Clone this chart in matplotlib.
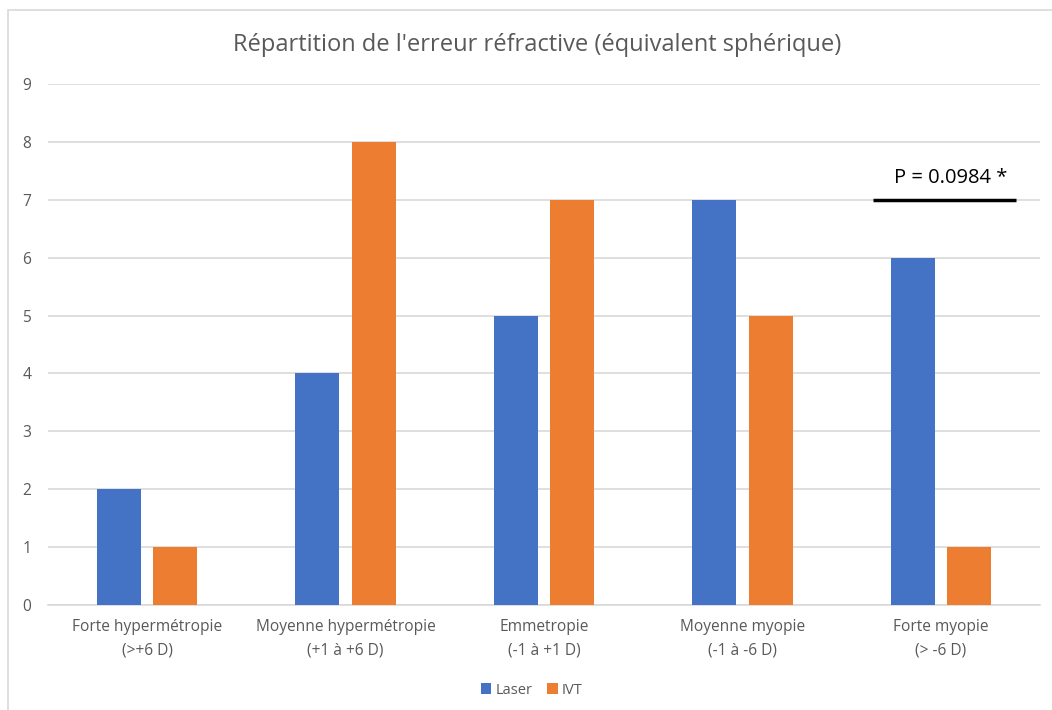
"""
Répartition de l'erreur réfractive - bar chart
"""
import numpy as np
import matplotlib.pyplot as plt
from matplotlib.patches import Rectangle

plt.rcParams['font.family'] = ['Open Sans', 'DejaVu Sans']

categories = [
    "Forte hypermétropie\n(>+6 D)",
    "Moyenne hypermétropie\n(+1 à +6 D)",
    "Emmetropie\n(-1 à +1 D)",
    "Moyenne myopie\n(-1 à -6 D)",
    "Forte myopie\n(> -6 D)",
]
laser = [2, 4, 5, 7, 6]
ivt = [1, 8, 7, 5, 1]
p_label = "P = 0.0984 *"
p_level = 7

blue = '#4472C4'
orange = '#ED7D31'
grey = '#595959'

fig = plt.figure(figsize=(10.52, 7.1), dpi=100)
# chart border like excel
fig.patches.append(Rectangle((8 / 1052, -0.01), 1.1, 1 - 10 / 710 + 0.01,
                             transform=fig.transFigure, fill=False,
                             edgecolor='#D9D9D9', linewidth=1.2))

ax = fig.add_axes([48 / 1052, (710 - 605) / 710, (1040 - 48) / 1052, (605 - 84) / 710])

x = np.arange(len(categories))
w = 0.222
off = 0.142
ax.bar(x - off, laser, w, color=blue, label='Laser', zorder=3)
ax.bar(x + off, ivt, w, color=orange, label='IVT', zorder=3)

ax.set_xlim(-0.5, len(categories) - 0.5)
ax.set_ylim(0, 9)
ax.set_yticks(range(10))
ax.yaxis.grid(True, color='#D9D9D9', linewidth=1.2, zorder=0)
for s in ['top', 'right', 'left']:
    ax.spines[s].set_visible(False)
ax.spines['bottom'].set_color('#D9D9D9')
ax.spines['bottom'].set_linewidth(1.2)
ax.tick_params(axis='both', length=0, colors=grey, labelsize=11.2)
ax.tick_params(axis='y', pad=12)
ax.tick_params(axis='x', pad=10)
ax.set_xticks(x)
ax.set_xticklabels(categories, linespacing=1.6)

# significance line over the last group
last = len(categories) - 1
ax.plot([last - 0.34, last + 0.38], [p_level, p_level], color='black', linewidth=2.5,
        solid_capstyle='butt', zorder=4)
ax.text(last + 0.05, p_level + 0.2, p_label, ha='center', va='bottom',
        fontsize=14.5, color='black')

fig.text(537 / 1052, 1 - 45 / 710, "Répartition de l'erreur réfractive (équivalent sphérique)",
         ha='center', va='center', fontsize=17, color=grey)

fig.legend(loc='center', bbox_to_anchor=(532 / 1052, 1 - 690 / 710), ncol=2, frameon=False,
           fontsize=10.5, handlelength=0.7, handleheight=0.7, handletextpad=0.3,
           columnspacing=1.0, labelcolor=grey)

fig.savefig('out.png', dpi=100)
